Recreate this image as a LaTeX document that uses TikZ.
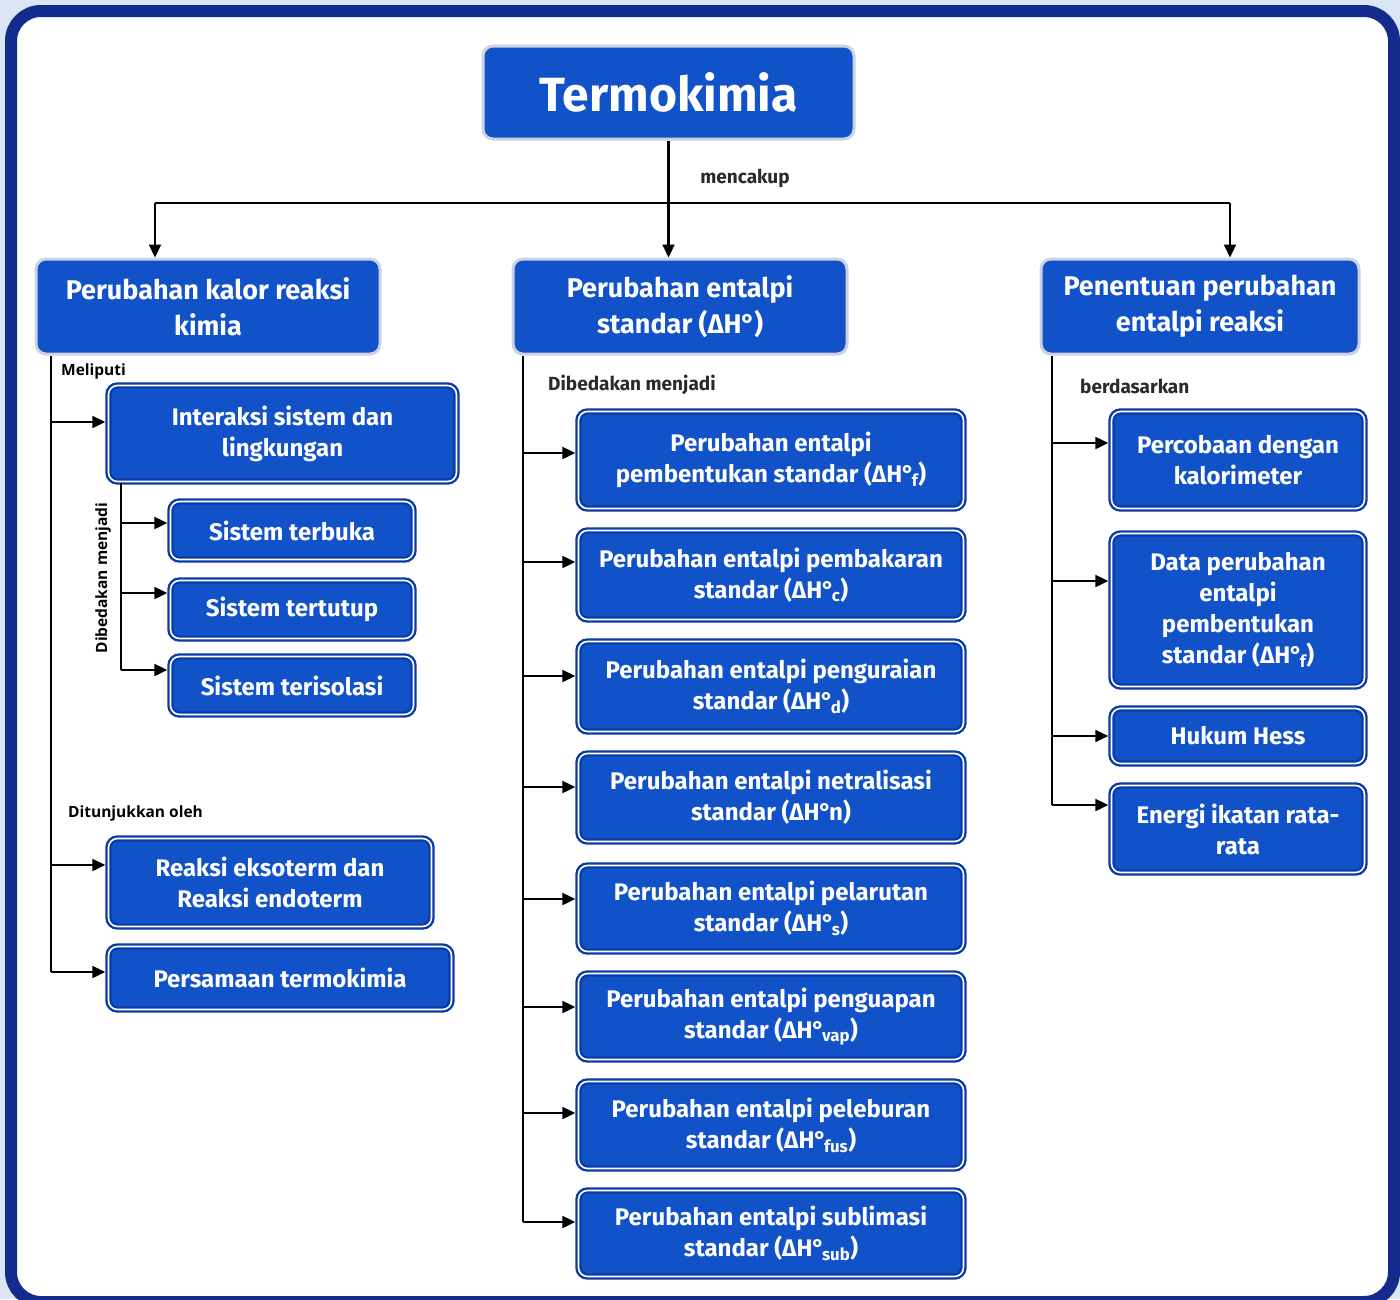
\documentclass[tikz,border=0pt]{standalone}
\usepackage{fontspec}
\setmainfont{Fira Sans}
\newfontfamily\opensans{Open Sans}
\usetikzlibrary{arrows.meta}
\definecolor{boxblue}{HTML}{1252C8}
\definecolor{edgeblue}{HTML}{0B3BA8}
\definecolor{framenavy}{HTML}{142A8C}
\definecolor{bgblue}{HTML}{D9E6F6}
\definecolor{toprim}{HTML}{CBD3E0}
\definecolor{labelgray}{HTML}{2A2A2A}
\newcommand\dHdeg{ΔH\kern-0.5pt°\kern-2.5pt}
\begin{document}
\begin{tikzpicture}[x=1pt,y=-1pt,
 topbox/.style={rectangle, rounded corners=10pt, fill=boxblue, draw=toprim, line width=3pt, text=white, font=\bfseries\fontsize{27}{36}\selectfont, align=center, inner sep=0pt},
 subbox/.style={rectangle, rounded corners=9pt, fill=boxblue, draw=edgeblue, double=white, double distance=1.6pt, line width=2.4pt, text=white, font=\bfseries\fontsize{24}{31}\selectfont, align=center, inner sep=0pt},
 conn/.style={line width=2.2pt, draw=black},
 arr/.style={conn, -{Triangle[length=13pt,width=12pt]}},
 subarr/.style={arr, shorten >=2pt},
 lbl/.style={font=\bfseries\fontsize{19}{22}\selectfont, text=labelgray, inner sep=0pt},
 olbl/.style={font=\opensans\bfseries\fontsize{15.5}{18}\selectfont, text=black, inner sep=0pt},
]
\useasboundingbox (0,0) rectangle (1400,1299);
\fill[bgblue] (0,0) rectangle (1400,1299);
\draw[framenavy, line width=12pt, fill=white, rounded corners=30pt] (11,11) rectangle (1394,1302);

% title and level 1
\node[topbox, minimum width=371pt, minimum height=93pt, font=\bfseries\fontsize{48}{56}\selectfont] (title) at (668.5,92.5) {Termokimia};
\node[topbox, minimum width=344pt, minimum height=95pt] (kal) at (208,306.5) {Perubahan kalor reaksi\\kimia};
\node[topbox, minimum width=334pt, minimum height=95pt] (ent) at (680,306.5) {Perubahan entalpi\\standar (ΔH\kern-0.5pt°\kern-1pt)};
\node[topbox, minimum width=318pt, minimum height=95pt] (pen) at (1200,306.5) {Penentuan perubahan\\entalpi reaksi};

\coordinate (jl) at (155,203);
\coordinate (jr) at (1230,203);
\draw[conn] (title.south) -- (title.south |- jl);
\draw[conn] (jl) -- (jr);
\draw[arr] (jl) -- (jl |- kal.north);
\draw[arr] (title.south |- jl) -- (title.south |- ent.north);
\draw[arr] (jr) -- (jr |- pen.north);
\node[lbl] (mencakup) at (745,178) {mencakup};

% left column
\node[subbox, minimum width=348pt, minimum height=96pt] (inter) at (282.5,433.5) {Interaksi sistem dan\\lingkungan};
\node[subbox, minimum width=243pt, minimum height=58pt] (terbuka) at (292,530.5) {Sistem terbuka};
\node[subbox, minimum width=243pt, minimum height=58pt] (tertutup) at (292,609.5) {Sistem tertutup};
\node[subbox, minimum width=243pt, minimum height=58pt] (terisolasi) at (292,685.5) {Sistem terisolasi};
\node[subbox, minimum width=323pt, minimum height=88pt] (reaksi) at (270,882.5) {Reaksi eksoterm dan\\Reaksi endoterm};
\node[subbox, minimum width=343pt, minimum height=63pt] (persamaan) at (280,978) {Persamaan termokimia};

\coordinate (lx) at (51,0);
\coordinate (ix) at (121,0);
\draw[conn] (lx |- kal.south) -- (lx |- 0,972);
\draw[subarr] (lx |- 0,422) -- (inter.west |- 0,422);
\draw[subarr] (lx |- 0,865) -- (reaksi.west |- 0,865);
\draw[subarr] (lx |- 0,972) -- (persamaan.west |- 0,972);
\draw[conn] (ix |- inter.south) -- (ix |- 0,670);
\draw[subarr] (ix |- 0,523) -- (terbuka.west |- 0,523);
\draw[subarr] (ix |- 0,593) -- (tertutup.west |- 0,593);
\draw[subarr] (ix |- 0,670) -- (terisolasi.west |- 0,670);
\node[olbl, anchor=west] (meliputi) at (61,371) {Meliputi};
\node[olbl, anchor=west] (ditun) at (68,813) {Ditunjukkan oleh};
\node[olbl, rotate=90] (dibl) at (103,578) {Dibedakan menjadi};

% middle column
\node[subbox, minimum width=385pt, minimum height=97pt] (m1) at (771,460) {Perubahan entalpi\\pembentukan standar (\dHdeg\textsubscript{f})};
\node[subbox, minimum width=385pt, minimum height=89pt] (m2) at (771,575) {Perubahan entalpi pembakaran\\standar (\dHdeg\textsubscript{c})};
\node[subbox, minimum width=385pt, minimum height=90pt] (m3) at (771,686.5) {Perubahan entalpi penguraian\\standar (\dHdeg\textsubscript{d})};
\node[subbox, minimum width=385pt, minimum height=88pt] (m4) at (771,797.5) {Perubahan entalpi netralisasi\\standar (\dHdeg n)};
\node[subbox, minimum width=385pt, minimum height=86pt] (m5) at (771,908.5) {Perubahan entalpi pelarutan\\standar (\dHdeg\textsubscript{s})};
\node[subbox, minimum width=385pt, minimum height=86pt] (m6) at (771,1016.5) {Perubahan entalpi penguapan\\standar (\dHdeg\textsubscript{vap})};
\node[subbox, minimum width=385pt, minimum height=87pt] (m7) at (771,1125) {Perubahan entalpi peleburan\\standar (\dHdeg\textsubscript{fus})};
\node[subbox, minimum width=385pt, minimum height=86pt] (m8) at (771,1233.5) {Perubahan entalpi sublimasi\\standar (\dHdeg\textsubscript{sub})};

\coordinate (mx) at (523,0);
\draw[conn] (mx |- ent.south) -- (mx |- 0,1222);
\draw[subarr] (mx |- 0,453) -- (m1.west |- 0,453);
\draw[subarr] (mx |- 0,562) -- (m2.west |- 0,562);
\draw[subarr] (mx |- 0,676) -- (m3.west |- 0,676);
\draw[subarr] (mx |- 0,787) -- (m4.west |- 0,787);
\draw[subarr] (mx |- 0,899) -- (m5.west |- 0,899);
\draw[subarr] (mx |- 0,1007) -- (m6.west |- 0,1007);
\draw[subarr] (mx |- 0,1113) -- (m7.west |- 0,1113);
\draw[subarr] (mx |- 0,1222) -- (m8.west |- 0,1222);
\node[lbl, anchor=west] (dibm) at (548,385) {Dibedakan menjadi};

% right column
\node[subbox, minimum width=253pt, minimum height=97pt] (r1) at (1238,460) {Percobaan dengan\\kalorimeter};
\node[subbox, minimum width=253pt, minimum height=153pt] (r2) at (1238,610) {Data perubahan\\entalpi\\pembentukan\\standar (\dHdeg\textsubscript{f})};
\node[subbox, minimum width=253pt, minimum height=55pt] (r3) at (1238,736) {Hukum Hess};
\node[subbox, minimum width=253pt, minimum height=87pt] (r4) at (1238,829) {Energi ikatan rata-\\rata};

\coordinate (rx) at (1052,0);
\draw[conn] (rx |- pen.south) -- (rx |- 0,805);
\draw[subarr] (rx |- 0,443) -- (r1.west |- 0,443);
\draw[subarr] (rx |- 0,581) -- (r2.west |- 0,581);
\draw[subarr] (rx |- 0,736) -- (r3.west |- 0,736);
\draw[subarr] (rx |- 0,805) -- (r4.west |- 0,805);
\node[lbl, anchor=west] (berd) at (1080,386) {berdasarkan};
\end{tikzpicture}
\end{document}
